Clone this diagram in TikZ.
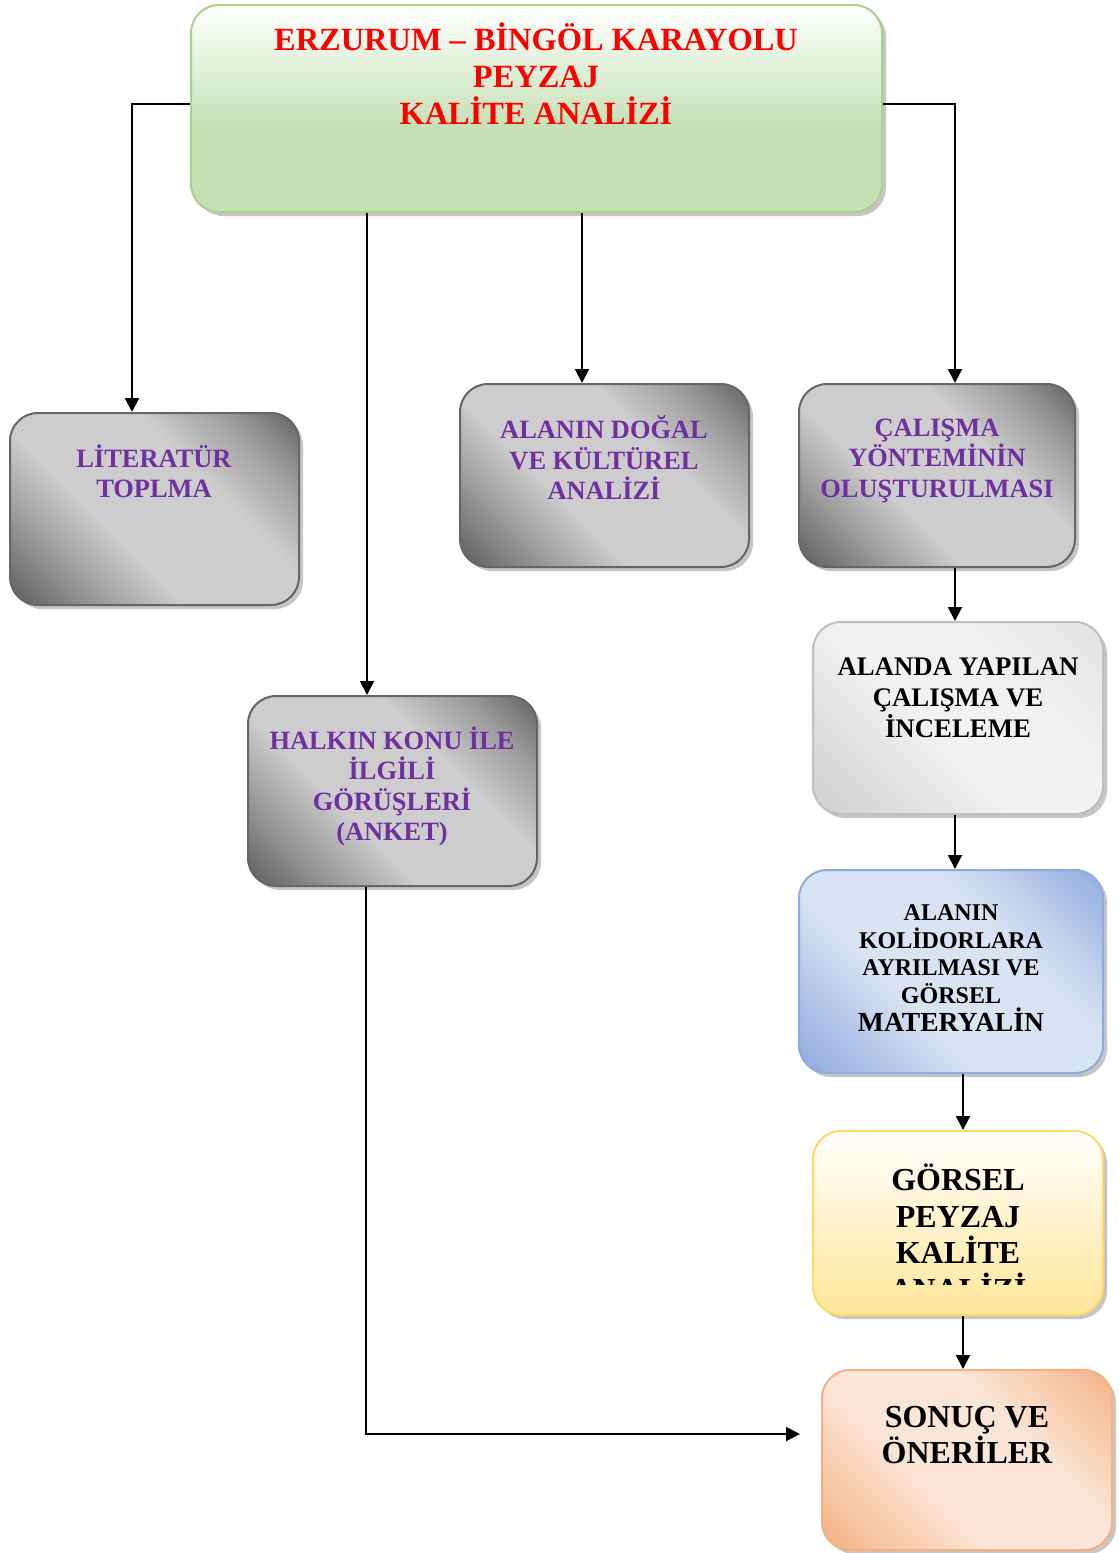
\documentclass[tikz,border=0pt]{standalone}
\usepackage{fontspec}
\setmainfont{Liberation Serif}
\usepackage{tikz}
\usepackage{xcolor}
\usetikzlibrary{arrows.meta,positioning,shadows}
\definecolor{TitleRed}{HTML}{FF0000}
\definecolor{TextPurple}{HTML}{7030A0}
\definecolor{GreenLine}{HTML}{A9D18E}
\definecolor{GreenBottom}{HTML}{C5E0B4}
\definecolor{BoxGreyDark}{HTML}{5E5E5E}
\definecolor{BoxGreyMid}{HTML}{9A9A9A}
\definecolor{BoxGreyLight}{HTML}{CDCDCD}
\definecolor{BoxGreyLine}{HTML}{666666}
\definecolor{SilverEdge}{HTML}{CFCFCF}
\definecolor{SilverMid}{HTML}{F2F2F2}
\definecolor{SilverLine}{HTML}{BFBFBF}
\definecolor{BlueEdge}{HTML}{8FAADC}
\definecolor{BlueMid}{HTML}{DAE3F3}
\definecolor{YellowLine}{HTML}{FFD966}
\definecolor{YellowBottom}{HTML}{FFE699}
\definecolor{PeachEdge}{HTML}{F4B183}
\definecolor{PeachMid}{HTML}{FBE5D6}
% Shadings
\pgfdeclareverticalshading{greenfade}{100bp}{color(0bp)=(GreenBottom); color(25bp)=(GreenBottom); color(45bp)=(GreenBottom); color(75bp)=(white); color(100bp)=(white)}
\pgfdeclarehorizontalshading{greyband}{100bp}{color(0bp)=(BoxGreyDark); color(15bp)=(BoxGreyDark); color(28bp)=(BoxGreyMid); color(40bp)=(BoxGreyLight); color(62bp)=(BoxGreyLight); color(75bp)=(BoxGreyMid); color(86bp)=(BoxGreyDark); color(100bp)=(BoxGreyDark)}
\pgfdeclarehorizontalshading{silverband}{100bp}{color(0bp)=(SilverEdge); color(15bp)=(SilverEdge); color(45bp)=(SilverMid); color(62bp)=(SilverMid); color(86bp)=(SilverEdge!60!white); color(100bp)=(SilverEdge!60!white)}
\pgfdeclarehorizontalshading{blueband}{100bp}{color(0bp)=(BlueEdge); color(15bp)=(BlueEdge); color(40bp)=(BlueMid); color(62bp)=(BlueMid); color(86bp)=(BlueEdge); color(100bp)=(BlueEdge)}
\pgfdeclarehorizontalshading{peachband}{100bp}{color(0bp)=(PeachEdge); color(15bp)=(PeachEdge); color(40bp)=(PeachMid); color(62bp)=(PeachMid); color(86bp)=(PeachEdge); color(100bp)=(PeachEdge)}
\tikzset{
    % Base box style
    basebox/.style={
        rounded corners=14pt,
        line width=1pt,
        inner sep=0pt,
        drop shadow={shadow xshift=2pt, shadow yshift=-2pt, fill=black!45, opacity=0.5}
    },
    % Title box
    titlebox/.style={
        basebox,
        draw=GreenLine,
        shade,
        shading=greenfade
    },
    % Grey boxes
    greybox/.style={
        basebox,
        draw=BoxGreyLine,
        shade,
        shading=greyband,
        shading angle=45
    },
    silverbox/.style={
        basebox,
        draw=SilverLine,
        shade,
        shading=silverband,
        shading angle=45
    },
    bluebox/.style={
        basebox,
        draw=BlueEdge,
        shade,
        shading=blueband,
        shading angle=45
    },
    yellowbox/.style={
        basebox,
        draw=YellowLine,
        top color=white,
        bottom color=YellowBottom
    },
    peachbox/.style={
        basebox,
        draw=PeachEdge,
        shade,
        shading=peachband,
        shading angle=45
    },
    % Text styles
    titletext/.style={
        text=TitleRed,
        font=\fontsize{16.2}{18.5}\selectfont\bfseries,
        align=center,
        inner sep=0pt
    },
    purpletext/.style={
        text=TextPurple,
        font=\fontsize{13.2}{15.25}\selectfont\bfseries,
        align=center,
        inner sep=0pt
    },
    blacktext/.style={
        text=black,
        font=\fontsize{13.4}{15.5}\selectfont\bfseries,
        align=center,
        inner sep=0pt
    },
    bigtext/.style={
        text=black,
        font=\fontsize{16}{18.3}\selectfont\bfseries,
        align=center,
        inner sep=0pt
    },
    % Arrow style
    myarrow/.style={
        -{Triangle[length=7pt,width=7pt]},
        line width=1pt,
        draw=black
    }
}

\begin{document}
\begin{tikzpicture}[x=0.5pt, y=-0.5pt]
        \useasboundingbox (0,0) rectangle (1119,1553);

        % Top box
        \node[titlebox, minimum width=345.5pt, minimum height=103.5pt] (title) at (536.5,108.5) {};
        \node[titletext] (titletxt) at (536,74) {ERZURUM -- BİNGÖL KARAYOLU\\PEYZAJ\\KALİTE ANALİZİ};

        % Grey boxes
        \node[greybox, minimum width=144.5pt, minimum height=96pt] (lit) at (154.5,509) {};
        \node[purpletext] (littxt) at (154,471.5) {LİTERATÜR\\TOPLMA};

        \node[greybox, minimum width=144.5pt, minimum height=91.5pt] (dogal) at (604.5,475.5) {};
        \node[purpletext] (dogaltxt) at (604,458) {ALANIN DOĞAL\\VE KÜLTÜREL\\ANALİZİ};

        \node[greybox, minimum width=138pt, minimum height=91.5pt] (yontem) at (937,475.5) {};
        \node[purpletext] (yontemtxt) at (937,460.5) {ÇALIŞMA\\YÖNTEMİNİN\\OLUŞTURULMASI};

        \node[greybox, minimum width=144.5pt, minimum height=95pt] (halk) at (392.5,791) {};
        \node[purpletext] (halktxt) at (392,786.5) {HALKIN KONU İLE\\İLGİLİ\\GÖRÜŞLERİ\\(ANKET)};

        % Right column
        \node[silverbox, minimum width=145pt, minimum height=96pt] (alanda) at (958,718) {};
        \node[blacktext] (alandatxt) at (958,698) {ALANDA YAPILAN\\ÇALIŞMA VE\\İNCELEME};

        \node[bluebox, minimum width=152pt, minimum height=101.5pt] (kolidor) at (951,971.5) {};
        \node[blacktext, font=\fontsize{12}{13.9}\selectfont\bfseries] (kolidortxt) at (951,968) {ALANIN\\KOLİDORLARA\\AYRILMASI VE\\GÖRSEL\\{\fontsize{13.8}{13.9}\selectfont MATERYALİN}};

        \node[yellowbox, minimum width=145pt, minimum height=92pt] (gorsel) at (958,1223) {};
        \begin{scope}
            \clip (813,1131) rectangle (1103,1284);
            \node[bigtext] (gorseltxt) at (958,1232) {GÖRSEL\\PEYZAJ\\KALİTE\\ANALİZİ};
        \end{scope}

        \node[peachbox, minimum width=145pt, minimum height=90pt] (sonuc) at (967,1460) {};
        \node[bigtext] (sonuctxt) at (967,1435) {SONUÇ VE\\ÖNERİLER};

        % Arrows
        \draw[myarrow] ([yshift=2.25pt]title.west) -| ([xshift=-11.25pt]lit.north);
        \draw[myarrow] ([yshift=2.25pt]title.east) -| ([xshift=9pt]yontem.north);
        \draw[myarrow] (title.south -| 582,0) -- (dogal.north -| 582,0);
        \draw[myarrow] (title.south -| 367,0) -- (halk.north -| 367,0);

        \draw[myarrow] (yontem.south -| 955,0) -- (alanda.north -| 955,0);
        \draw[myarrow] (alanda.south -| 955,0) -- (kolidor.north -| 955,0);
        \draw[myarrow] (kolidor.south -| 963,0) -- (gorsel.north -| 963,0);
        \draw[myarrow] (gorsel.south -| 963,0) -- (sonuc.north -| 963,0);

        \coordinate (sonucin) at (800,1434);
        \draw[myarrow] (halk.south -| 366,0) |- (sonucin);
    \end{tikzpicture}
\end{document}
